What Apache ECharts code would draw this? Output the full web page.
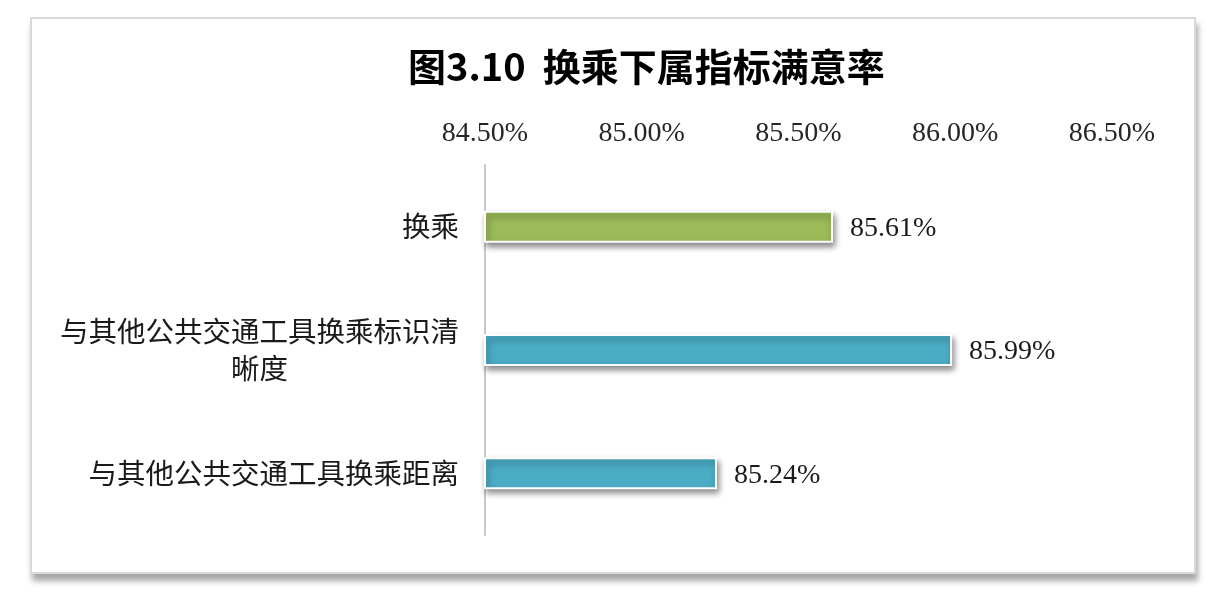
<!DOCTYPE html>
<html><head><meta charset="utf-8">
<script src="https://cdn.jsdelivr.net/npm/echarts@6/dist/echarts.min.js"></script>
<style>
html,body{margin:0;padding:0;background:#fff;}
#frame{position:absolute;left:30px;top:17px;width:1162px;height:553px;border:2px solid #d9d9d9;background:#fff;box-shadow:2px 7px 6px rgba(0,0,0,0.35);}
#c{position:absolute;left:0;top:0;width:1224px;height:594px;}
</style></head>
<body>
<div id="frame"></div>
<div id="c"></div>
<script>
const categories = ['换乘', '与其他公共交通工具换乘标识清晰度', '与其他公共交通工具换乘距离'];
const values = [85.61, 85.99, 85.24];
const barColors = ['#9BBB59', '#4BACC6', '#4BACC6'];
const axisMin = 84.5, axisMax = 86.5, axisStep = 0.5;

const chart = echarts.init(document.getElementById('c'), null, {renderer: 'canvas'});
chart.setOption({
  backgroundColor: 'transparent',
  animation: false,
  title: {
    text: '图3.10  换乘下属指标满意率',
    left: 403, top: 43,
    textStyle: {fontFamily: '"Noto Sans CJK SC", sans-serif', fontSize: 38, fontWeight: 'bold', color: '#000'}
  },
  grid: {left: 485, right: 112, top: 165, bottom: 59, containLabel: false},
  xAxis: {
    type: 'value', position: 'top', min: axisMin, max: axisMax, interval: axisStep,
    axisLine: {show: false}, axisTick: {show: false}, splitLine: {show: false},
    axisLabel: {
      margin: 17, color: '#262626',
      fontFamily: '"Liberation Serif", serif', fontSize: 28,
      formatter: v => v.toFixed(2) + '%'
    }
  },
  yAxis: {
    type: 'category', data: categories, inverse: true,
    axisLine: {show: true, lineStyle: {color: '#c8c8c8', width: 2}},
    axisTick: {show: false},
    axisLabel: {
      margin: 26, color: '#1a1a1a',
      fontFamily: '"Noto Sans CJK SC", sans-serif', fontSize: 28.5,
      formatter: function (v) {
        const max = 14;
        const lines = [];
        for (let i = 0; i < v.length; i += max) lines.push(v.slice(i, i + max));
        return lines.map(l => '{c|' + l + '}').join('\n');
      },
      rich: {c: {align: 'center', lineHeight: 37, fontSize: 28.5, fontFamily: '"Noto Sans CJK SC", sans-serif', color: '#1a1a1a'}}
    }
  },
  series: [{
    type: 'bar',
    data: values.map((v, i) => ({value: v, itemStyle: {color: barColors[i]}})),
    barWidth: 32,
    itemStyle: {
      borderColor: '#ffffff', borderWidth: 2,
      shadowColor: 'rgba(0,0,0,0.45)', shadowBlur: 6, shadowOffsetX: 2, shadowOffsetY: 4
    },
    label: {
      show: true, position: 'right', distance: 17, offset: [0, 2],
      color: '#1a1a1a', fontFamily: '"Liberation Serif", serif', fontSize: 28,
      formatter: p => p.value.toFixed(2) + '%'
    }
  }]
});
</script>
</body></html>
